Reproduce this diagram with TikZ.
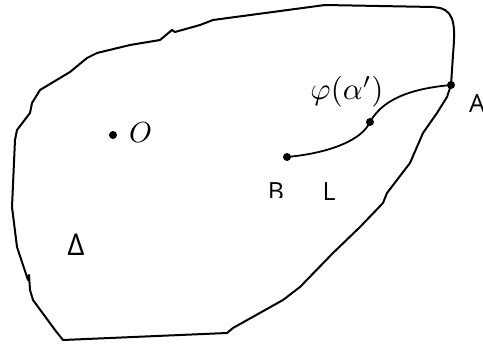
\documentclass[tikz,border=0pt]{standalone}
\usepackage{graphicx}
\usepackage{fontspec}
\setsansfont{Open Sans}
\begin{document}
\begin{tikzpicture}[x=1pt,y=-1pt,
  outline/.style={line width=2pt,line join=round},
  pt/.style={circle,fill=black,inner sep=0pt,minimum size=8pt},
  lbl/.style={inner sep=0pt,font=\sffamily\fontsize{25}{29}\selectfont}]
\useasboundingbox (0,0) rectangle (483,345);
% outline
\draw[outline] (451,85) -- (453,55) .. controls (455,30) and (456,12) .. (440,8)
  -- (433,7) -- (325,5) -- (213,20) -- (200,25) -- (175,32) -- (172,30) -- (160,40)
  -- (130,45) -- (97,53) -- (87,58) -- (70,72) -- (40,90) -- (32,103) -- (30,113)
  -- (17,130) -- (15,140) -- (12,207) -- (17,247) -- (28,280) -- (29,275) -- (30,290) -- (33,300)
  -- (55,330) -- (63,340) -- (227,333) -- (233,328) -- (283,300) -- (300,287)
  -- (333,253) -- (360,227) -- (383,203) -- (387,193) -- (410,163) -- (423,133)
  -- (437,113) -- (447,97) -- cycle;
% points
\node[pt] (A) at (451,85) {};
\node[pt] (M) at (370,122) {};
\node[pt] (B) at (287,157) {};
\node[pt] (O) at (113,135) {};
\draw[line width=1.8pt] (B.center) .. controls (330,153) and (362,140) .. (M.center)
  .. controls (385,95) and (420,88) .. (A.center);
% labels
\node[inner sep=0pt] (phi) at (347,92) {\scalebox{3.1}{$\varphi(\alpha')$}};
\node[inner sep=0pt,anchor=west] (Ol) at (129,133) {\scalebox{2.9}{$O$}};
\node[lbl,anchor=west] (Al) at (469,104) {A};
\begin{scope}
\clip (0,0) rectangle (483,198);
\node[lbl] (Bl) at (276,192) {B};
\end{scope}
\node[lbl] (Ll) at (329,192) {L};
\node[lbl,font=\sffamily\fontsize{30}{34}\selectfont] (Dl) at (76,245) {Δ};
\end{tikzpicture}
\end{document}
